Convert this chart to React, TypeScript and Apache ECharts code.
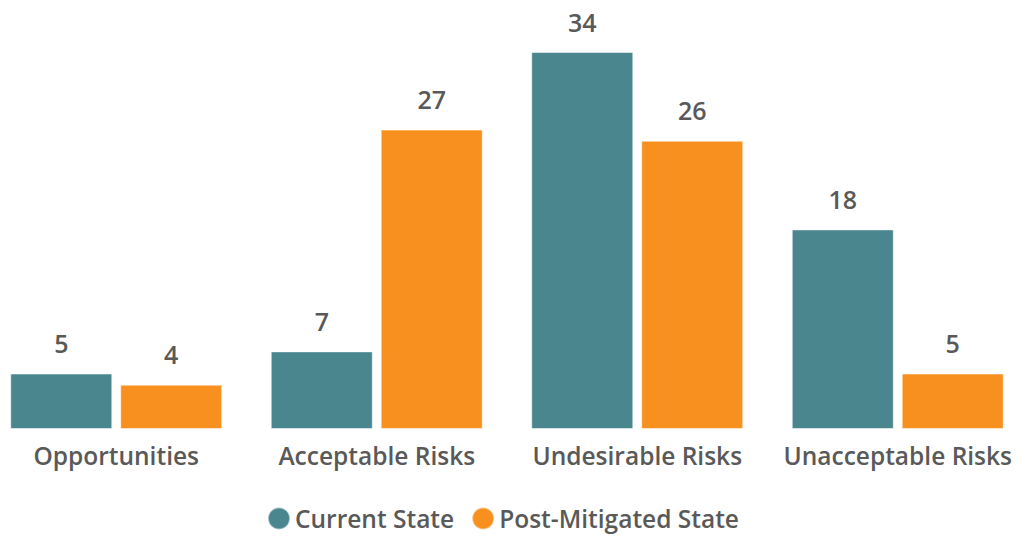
import React, { useEffect, useRef } from "react";
import * as echarts from "echarts";

const categories = ["Opportunities", "Acceptable Risks", "Undesirable Risks", "Unacceptable Risks"];
const currentState = [5, 7, 34, 18];
const postMitigated = [4, 27, 26, 5];
const seriesNames = ["Current State", "Post-Mitigated State"];

const FONT = "'Open Sans', 'Noto Sans', sans-serif";
const TEXT = "#595959";

export default function App() {
  const ref = useRef<HTMLDivElement>(null);
  useEffect(() => {
    if (!ref.current) return;
    const chart = echarts.init(ref.current, null, { renderer: "svg" });
    const label = {
      show: true,
      position: "top",
      distance: 18,
      color: TEXT,
      fontSize: 25,
      fontWeight: 600,
      fontFamily: FONT,
    };
    chart.setOption({
      animation: false,
      textStyle: { fontFamily: FONT },
      grid: { left: 0, right: 0, top: 52, bottom: 107, containLabel: false },
      legend: {
        data: seriesNames,
        top: 501,
        left: 276,
        icon: "circle",
        itemWidth: 22,
        itemHeight: 22,
        itemGap: 17,
        textStyle: { color: TEXT, fontSize: 24.5, fontWeight: 600, fontFamily: FONT },
      },
      xAxis: {
        type: "category",
        data: categories,
        axisLine: { show: false },
        axisTick: { show: false },
        axisLabel: { interval: 0, color: TEXT, fontSize: 24.5, fontWeight: 600, fontFamily: FONT, margin: 14 },
      },
      yAxis: {
        type: "value",
        min: 0,
        max: 34,
        show: false,
        splitLine: { show: false },
      },
      series: [
        {
          name: seriesNames[0],
          type: "bar",
          data: currentState,
          barWidth: 102,
          barGap: "7.8%",
          itemStyle: { color: "#4A868E", borderColor: "rgba(255,255,255,0.5)", borderWidth: 1 },
          label,
        },
        {
          name: seriesNames[1],
          type: "bar",
          data: postMitigated,
          barWidth: 102,
          barGap: "7.8%",
          itemStyle: { color: "#F7901E", borderColor: "rgba(255,255,255,0.5)", borderWidth: 1 },
          label,
        },
      ],
    });
    return () => chart.dispose();
  }, []);
  return (
    <div style={{ width: 1021, height: 536, position: "absolute", left: 0, top: 0, overflow: "hidden" }}>
      <div ref={ref} style={{ width: 1042, height: 536, position: "absolute", left: -14, top: 0 }} />
    </div>
  );
}
